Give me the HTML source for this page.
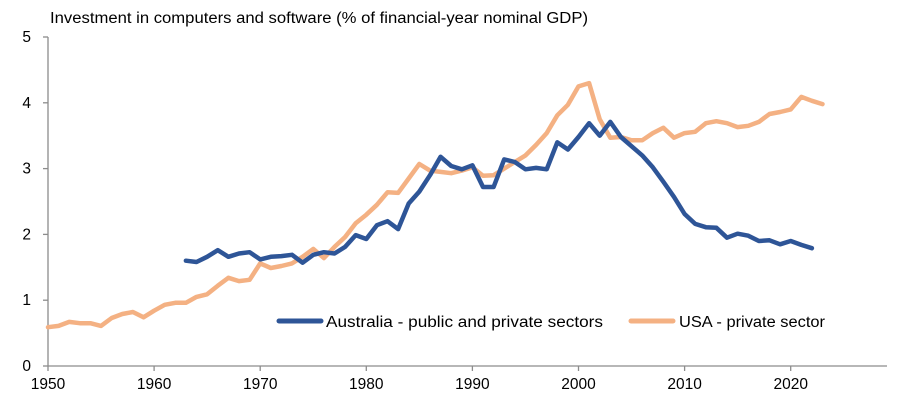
<!DOCTYPE html>
<html><head><meta charset="utf-8"><style>
body{margin:0;background:#fff;font-family:"Liberation Sans",sans-serif;}
svg text{font-family:"Liberation Sans",sans-serif;fill:#000;}
</style></head><body>
<svg width="900" height="403">
<text x="50" y="23" font-size="15.5" textLength="538" lengthAdjust="spacingAndGlyphs">Investment in computers and software (% of financial-year nominal GDP)</text>
<g id="axes"></g>
<g id="series"></g>
<g>
<line x1="279" y1="321" x2="321" y2="321" stroke="#2E5597" stroke-width="5" stroke-linecap="round"/>
<text x="326" y="327" font-size="15.5" textLength="277" lengthAdjust="spacingAndGlyphs">Australia - public and private sectors</text>
<line x1="631" y1="321" x2="673" y2="321" stroke="#F4B183" stroke-width="5" stroke-linecap="round"/>
<text x="679" y="327" font-size="15.5" textLength="146" lengthAdjust="spacingAndGlyphs">USA - private sector</text>
</g>
</svg>
<script>
const usaStart = 1950;
const usaValues = [0.59,0.61,0.67,0.65,0.65,0.61,0.73,0.79,0.82,0.74,0.84,0.93,0.96,0.96,1.05,1.09,1.22,1.34,1.29,1.31,1.56,1.49,1.52,1.56,1.66,1.78,1.64,1.81,1.96,2.17,2.3,2.45,2.64,2.63,2.85,3.07,2.97,2.95,2.93,2.97,3.02,2.89,2.9,3.0,3.1,3.2,3.36,3.54,3.81,3.97,4.25,4.3,3.75,3.47,3.48,3.43,3.43,3.54,3.62,3.47,3.54,3.56,3.69,3.72,3.69,3.63,3.65,3.71,3.83,3.86,3.9,4.09,4.03,3.98];
const ausStart = 1963;
const ausValues = [1.6,1.58,1.66,1.76,1.66,1.71,1.73,1.62,1.66,1.67,1.69,1.57,1.69,1.73,1.71,1.81,1.99,1.93,2.14,2.2,2.08,2.47,2.65,2.9,3.18,3.04,2.99,3.05,2.72,2.72,3.14,3.1,2.99,3.01,2.99,3.4,3.29,3.48,3.69,3.5,3.71,3.48,3.34,3.2,3.02,2.8,2.57,2.31,2.16,2.11,2.1,1.95,2.01,1.98,1.9,1.91,1.85,1.9,1.84,1.79];
const xTicks = [1950,1960,1970,1980,1990,2000,2010,2020];
const yTicks = [0,1,2,3,4,5];
const NS='http://www.w3.org/2000/svg';
function xs(yr){return 48+(yr-1950)*10.61;}
function ys(v){return 366-v*65.8;}
function mk(t,a,p){const e=document.createElementNS(NS,t);for(const k in a)e.setAttribute(k,a[k]);p.appendChild(e);return e;}
const ax=document.getElementById('axes');
const yl=mk('line',{x1:48,y1:ys(5),x2:48,y2:366,stroke:'#8c8c8c','stroke-width':1.3},ax);


const xl=mk('line',{x1:48,y1:366,x2:887,y2:366,stroke:'#8c8c8c','stroke-width':1.3},ax);


yTicks.forEach(v=>{
  mk('line',{x1:43,y1:ys(v),x2:48,y2:ys(v),stroke:'#8c8c8c','stroke-width':1.3},ax);
  const t=mk('text',{x:31,y:ys(v)+5,'font-size':15.5,'text-anchor':'end'},ax);
  t.textContent=v;
  
  
});
xTicks.forEach(v=>{
  mk('line',{x1:xs(v),y1:366,x2:xs(v),y2:371,stroke:'#8c8c8c','stroke-width':1.3},ax);
  const t=mk('text',{x:xs(v),y:389,'font-size':15.5,'text-anchor':'middle'},ax);
  t.textContent=v;
  
  
});
const sg=document.getElementById('series');
function line(vals,start,col,name){
  const d=vals.map((v,i)=>(i?'L':'M')+xs(start+i).toFixed(1)+','+ys(v).toFixed(1)).join('');
  const p=mk('path',{d:d,fill:'none',stroke:col,'stroke-width':4.5,'stroke-linejoin':'round','stroke-linecap':'round'},sg);
  
  
}
line(usaValues,usaStart,'#F4B183','usa-line');
line(ausValues,ausStart,'#2E5597','australia-line');
</script>
</body></html>
